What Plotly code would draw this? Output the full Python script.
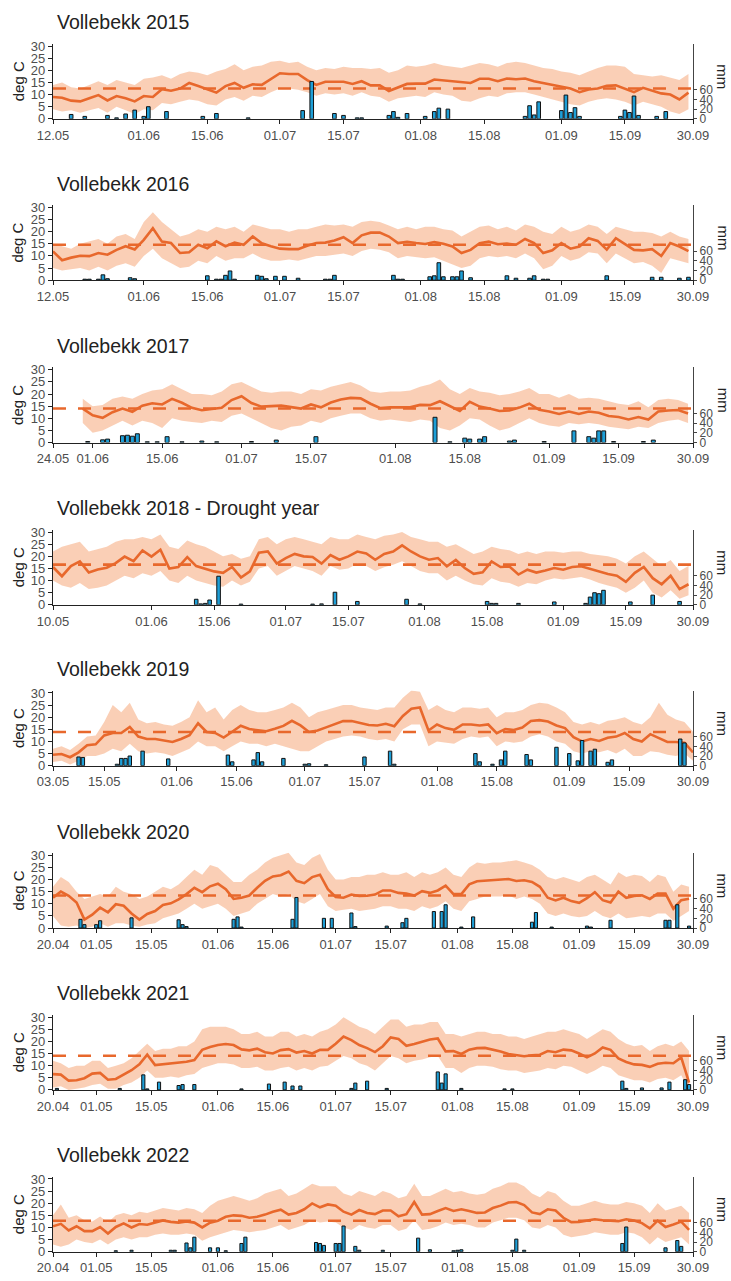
import plotly.graph_objects as go
import pandas as pd

# ---------------- data ----------------
years = [2015, 2016, 2017, 2018, 2019, 2020, 2021, 2022]
titles = ["Vollebekk 2015", "Vollebekk 2016", "Vollebekk 2017",
          "Vollebekk 2018 - Drought year", "Vollebekk 2019",
          "Vollebekk 2020", "Vollebekk 2021", "Vollebekk 2022"]
range_start = ["05-12", "05-12", "05-24", "05-10", "05-03", "04-20", "04-20", "04-20"]
range_end = "09-30"
temp_start = ["05-12", "05-12", "05-30", "05-10", "05-03", "04-20", "04-20", "04-20"]
season_mean = [12.5, 14.6, 14.0, 16.6, 13.9, 13.4, 14.1, 12.8]

ticks_a = ["12.05", "01.06", "15.06", "01.07", "15.07", "01.08", "15.08", "01.09", "15.09", "30.09"]
ticks_2017 = ["24.05", "01.06", "15.06", "01.07", "15.07", "01.08", "15.08", "01.09", "15.09", "30.09"]
ticks_2018 = ["10.05", "01.06", "15.06", "01.07", "15.07", "01.08", "15.08", "01.09", "15.09", "30.09"]
ticks_2019 = ["03.05", "15.05", "01.06", "15.06", "01.07", "15.07", "01.08", "15.08", "01.09", "15.09", "30.09"]
ticks_b = ["20.04", "01.05", "15.05", "01.06", "15.06", "01.07", "15.07", "01.08", "15.08", "01.09", "15.09", "30.09"]
tick_labels = [ticks_a, ticks_a, ticks_2017, ticks_2018, ticks_2019, ticks_b, ticks_b, ticks_b]

# temperatures read every second day from temp_start (deg C)
mean_2015 = [9.0, 8.7, 7.5, 7.2, 8.5, 9.8, 7.6, 9.4, 8.5, 7.2,
             9.4, 9.0, 12.2, 11.6, 12.5, 14.8, 13.5, 12.0, 10.8, 13.5,
             14.8, 12.8, 14.2, 14.0, 16.5, 18.8, 18.5, 18.5, 16.0, 14.0,
             15.3, 15.3, 15.3, 14.4, 15.5, 13.8, 13.8, 11.5, 13.0, 14.4,
             14.5, 14.5, 16.2, 15.8, 15.5, 15.0, 14.8, 16.5, 16.5, 15.5,
             16.6, 16.3, 16.6, 15.5, 14.8, 14.0, 13.2, 12.5, 11.0, 12.1,
             12.5, 13.6, 13.8, 12.5, 11.0, 12.8, 11.5, 10.5, 10.0, 8.0,
             10.8]
hi_2015 = [14, 15, 13, 12.5, 14, 15.5, 14, 16, 15, 14,
           16.5, 17, 18, 16.5, 18.5, 19.5, 19, 18, 19.5, 20.5,
           22.5, 20, 21.5, 22, 23.5, 24, 23, 23.5, 21.5, 20,
           21, 20.5, 21.5, 21, 21, 20.5, 21, 19, 20, 22,
           21.5, 22, 23, 22, 21.5, 21, 22, 23, 22.5, 21.5,
           23, 23.5, 23, 22, 21, 20.5, 19.5, 19, 18, 19.5,
           21, 22, 22, 21.5, 18.5, 18, 17.5, 18, 17, 16,
           18.5]
lo_2015 = [4, 3, 3.5, 2.5, 3.5, 4.5, 2.5, 5, 3.5, 2,
           4, 3.5, 6.5, 6, 7, 8, 7.5, 6, 5.5, 8,
           9, 7.5, 9.5, 9, 11, 12.5, 12.5, 12, 11, 9.5,
           10.5, 10, 10.5, 9.5, 11, 9.5, 9, 7, 8.5, 9,
           9.5, 9, 11, 10, 9.5, 7.5, 7, 8.5, 9.5, 9,
           10.5, 11, 11, 10, 9, 8, 7, 6, 5.5, 7,
           8, 8.5, 8, 7, 5.5, 7, 6, 5, 3, 2,
           4]

mean_2016 = [11.9, 8.2, 9.3, 10.1, 9.9, 11.2, 10.5, 12.5, 14.0, 12.7,
             16.6, 21.4, 15.9, 15.3, 11.2, 11.5, 14.6, 13.2, 16.0, 14.0,
             15.5, 14.6, 18.0, 15.2, 14.0, 13.0, 12.8, 12.8, 14.2, 15.3,
             15.5, 16.4, 17.7, 15.3, 18.5, 19.6, 19.6, 18.0, 15.3, 15.8,
             15.3, 14.9, 15.7, 15.0, 13.9, 11.2, 12.5, 15.2, 15.9, 14.8,
             15.1, 14.6, 17.0, 15.3, 11.2, 12.3, 15.3, 13.0, 13.9, 17.3,
             16.2, 12.6, 17.3, 14.8, 12.5, 12.3, 12.8, 10.0, 15.3, 13.9,
             12.0]
hi_2016 = [15, 14, 13, 15, 16, 17, 15, 18, 19, 17,
           24, 28, 24, 21, 18, 19, 21, 20, 22, 21,
           22, 20, 23, 22, 21, 21, 20, 21, 21, 22,
           23, 22.5, 23, 22, 24, 24.5, 24, 22.5, 21, 22,
           21, 22, 22, 21, 20.5, 18, 20, 22, 22.5, 21,
           22, 20.5, 23, 22, 20, 19, 22, 20, 21, 23,
           22, 19, 22, 21, 20, 20, 19.5, 18, 20, 18,
           17]
lo_2016 = [5, 4, 4.5, 5, 4, 5.5, 4, 6, 7, 5.5,
           10, 13, 9, 7, 5, 5.5, 8, 7, 10, 8,
           9, 9, 11, 9, 8, 8, 8.5, 8, 9, 10,
           10, 10.5, 11, 10, 12, 13, 12.5, 11.5, 9, 10,
           9.5, 9, 9.5, 8, 6.5, 5, 6, 9, 10, 9.5,
           10, 9, 11, 9, 4.5, 6, 10, 8, 9, 11.5,
           11, 7, 11, 9, 7, 7.5, 6, 3, 9, 8,
           7]

mean_2017 = [14.0, 11.2, 10.2, 12.5, 14.0, 12.7, 15.2, 16.2, 15.7, 18.0,
             16.4, 14.3, 13.3, 13.8, 14.3, 17.5, 19.1, 16.3, 14.8, 15.0,
             15.2, 14.6, 14.0, 15.7, 14.5, 16.5, 17.7, 18.4, 18.2, 16.0,
             14.2, 14.5, 14.5, 14.5, 15.5, 15.4, 17.0, 15.0, 13.0, 16.8,
             14.8, 14.0, 13.0, 13.2, 14.4, 16.0, 13.5, 12.8, 11.8, 12.8,
             11.8, 12.8, 12.3, 10.9, 10.5, 9.5, 10.5, 9.5, 12.8, 13.2,
             13.4, 12.0]
hi_2017 = [18, 15, 15.5, 18, 19, 18, 20, 21.5, 22, 24,
           22, 20, 20, 19.5, 21, 24, 25, 23, 21, 20.5,
           21, 21, 20, 22, 21.5, 23, 24, 25, 23.5, 21,
           20.5, 21, 21, 21.5, 23, 24, 26, 22, 20, 22.5,
           21, 20.5, 19.5, 20, 21, 22.5, 20, 20, 18.5, 20,
           18, 18.5, 18, 17, 16, 15.5, 17, 14.5, 17.5, 18,
           17.5, 16]
lo_2017 = [8, 4, 5, 7, 9, 7, 9, 8, 6, 10,
           9, 8.5, 8, 9, 8.5, 11, 12, 10, 8, 6,
           5, 6.5, 7, 9, 8, 10, 11, 12, 12, 10,
           9, 9.5, 9, 8.5, 9.5, 9, 6, 5, 7, 10,
           9.5, 7, 5, 6, 8, 10, 8, 7, 6.5, 8,
           7.5, 8, 7.5, 6.5, 6, 5.5, 6.5, 6, 8, 9,
           9.5, 8]

mean_2018 = [15.6, 11.8, 16.0, 17.9, 13.3, 14.6, 15.3, 17.2, 19.9, 18.0,
             22.4, 19.9, 22.7, 15.0, 15.6, 19.7, 16.0, 15.0, 13.8, 13.2,
             15.6, 11.3, 13.8, 21.5, 22.0, 17.0, 19.3, 21.0, 20.0, 19.7,
             17.0, 20.5, 18.6, 20.0, 22.0, 21.2, 18.6, 21.0, 22.0, 24.5,
             22.0, 20.0, 18.6, 19.3, 15.9, 18.5, 15.2, 12.8, 13.4, 17.9,
             15.6, 15.8, 12.5, 14.5, 13.3, 14.2, 15.2, 14.5, 15.6, 15.9,
             14.8, 13.5, 12.7, 12.0, 9.5, 13.2, 15.6, 11.0, 8.5, 12.0,
             6.5, 8.5]
hi_2018 = [22, 24, 25, 26, 22, 23, 24, 26, 27, 27,
           28, 27, 29, 24, 23, 26.5, 25, 24, 22, 20,
           21, 19, 20, 27, 28, 25, 27, 28, 27, 26,
           25, 28, 27, 27, 29, 28, 27, 28.5, 29, 30,
           28, 27, 26, 26, 24, 25, 23, 21, 22, 24,
           23, 22.5, 21, 22, 21, 22, 22, 21.5, 22, 22,
           21, 20.5, 20, 19, 17, 20, 22, 19, 16, 18.5,
           14, 16]
lo_2018 = [10, 8, 7, 9, 6.5, 7, 8, 10, 12, 11,
           13, 12, 14, 10, 9, 12, 10, 9, 8, 7.5,
           10, 8, 9.5, 15, 16, 12, 14, 16, 15, 14,
           12, 16, 14.5, 15, 17, 16, 14, 15.5, 16.5, 18,
           16, 14, 13, 13, 10, 12, 10, 8.5, 8, 11,
           9.5, 9, 7.5, 9, 8.5, 10, 11, 10.5, 11, 11.5,
           10.5, 9, 8, 7, 5, 7, 10, 5, 3, 6,
           2.5, 4]

mean_2019 = [4.5, 4.8, 3.5, 5.5, 8.4, 8.8, 12.5, 13.5, 13.5, 16.0,
             12.0, 11.0, 11.0, 10.5, 9.8, 11.0, 12.6, 17.5, 13.9, 13.5,
             11.6, 14.0, 16.5, 15.1, 14.8, 14.2, 15.2, 16.4, 18.5, 16.6,
             13.9, 14.5, 15.8, 17.0, 18.4, 18.4, 17.6, 16.8, 16.6, 17.3,
             16.3, 20.5, 23.5, 24.0, 14.5, 17.0, 15.5, 14.8, 17.0, 17.0,
             16.6, 17.0, 13.4, 15.1, 14.7, 15.7, 18.4, 18.8, 18.2, 16.6,
             15.5, 11.8, 10.0, 11.0, 10.2, 11.5, 12.0, 13.5, 11.0, 10.0,
             13.0, 11.5, 9.8, 9.8, 9.5, 5.5]
hi_2019 = [7, 8, 6.5, 9, 12, 12.5, 18, 25, 22, 26,
           19, 17.5, 18, 17, 16.5, 18, 20, 27, 22, 24,
           19, 23, 25, 23, 22, 22, 23, 24, 26, 24,
           20, 22, 23, 24, 25, 25, 24, 23.5, 23, 24,
           24, 28, 31, 30.5, 23, 25, 23, 22, 24, 24,
           23.5, 24, 20, 22, 22, 23, 25, 26, 25.5, 24,
           22, 18, 17, 18, 17, 18.5, 19, 20, 18, 17,
           20, 26, 21, 19, 18, 14]
lo_2019 = [1.5, 2, 0.5, 2, 4, 4, 5, 7, 6, 9,
           6, 5, 5.5, 5, 4, 5.5, 7, 10, 8, 8,
           6, 8, 10, 9, 9, 8, 9, 8, 7, 6,
           6, 8, 10, 11, 12, 12.5, 12, 11, 10.5, 11,
           10, 15, 17, 17, 8, 10, 9.5, 9, 11, 12,
           11.5, 12, 8, 10, 9.5, 10, 12, 13, 12, 10,
           9, 6, 5, 6, 5.5, 6.5, 5, 7, 4, 4,
           6, 5.5, 4.5, 4, 5, 2]

mean_2020 = [12.5, 15.0, 13.3, 10.5, 3.5, 5.5, 8.4, 6.5, 9.8, 9.2,
             6.0, 3.5, 5.8, 7.0, 9.5, 10.2, 11.8, 14.0, 16.6, 14.8,
             17.2, 18.3, 16.0, 12.0, 12.5, 13.4, 16.6, 19.5, 21.3, 21.8,
             23.3, 19.5, 18.5, 21.0, 22.0, 16.0, 12.8, 12.5, 13.8, 13.2,
             13.3, 13.8, 15.5, 15.5, 14.5, 14.2, 13.4, 15.2, 14.5, 15.5,
             17.5, 14.0, 14.0, 18.0, 19.3, 19.5, 19.8, 20.0, 20.2, 19.4,
             19.7, 19.0, 17.0, 12.5, 11.4, 12.5, 11.1, 10.4, 12.3, 14.8,
             11.5, 10.5, 15.0, 12.5, 13.2, 13.5, 12.0, 14.2, 14.2, 8.0,
             11.5, 12.1]
hi_2020 = [17, 21, 19, 15, 12, 13, 14, 13, 17, 15,
           14, 12, 13, 15, 17, 16, 18, 21, 24, 22,
           26, 25, 22, 19, 19, 22, 24, 27, 29, 30,
           31, 27, 26, 29, 30.5, 24, 20, 20, 21, 21,
           22, 22, 23, 22, 22, 23, 21, 23, 22, 23,
           25, 22, 21, 25, 27, 26.5, 27, 27, 27.5, 28,
           27, 26, 24, 21, 20, 21, 20, 19, 21, 22,
           20, 18, 23, 21, 22, 21.5, 19, 22, 21, 15,
           18, 17]
lo_2020 = [5, 1, 0.5, 1, 0, 0.5, 2, 0.5, 2, 2,
           1, 0.5, 1.5, 2, 4, 5, 6, 8, 10, 8,
           9, 10, 8, 5, 6, 7, 10, 12, 14, 13,
           14, 11, 10, 12, 14, 9, 7, 7.5, 8, 7,
           7.5, 8, 9, 9, 8, 8, 7, 9, 8, 9,
           11, 8, 7, 11, 12, 13, 13, 13, 13.5, 12,
           13, 12, 10, 6, 5, 6, 5, 4.5, 5, 7,
           5, 4, 6, 4, 4.5, 5, 4.5, 6, 6, 3,
           5, 7]

mean_2021 = [6.5, 6.3, 3.8, 4.0, 4.8, 6.7, 7.0, 4.2, 4.5, 6.3,
             8.1, 10.5, 14.5, 10.2, 10.5, 11.1, 11.3, 11.6, 12.3, 16.5,
             17.7, 18.5, 18.9, 18.5, 16.7, 16.3, 17.0, 15.5, 15.0, 16.4,
             16.8, 15.4, 16.0, 15.0, 16.5, 16.5, 19.0, 22.0, 20.5, 18.5,
             17.2, 15.6, 18.0, 21.6, 21.0, 18.2, 18.9, 19.8, 20.8, 21.2,
             15.9, 16.0, 14.8, 16.6, 17.2, 17.3, 16.6, 15.8, 14.8, 14.5,
             13.9, 14.3, 14.5, 16.0, 15.5, 16.6, 16.3, 15.0, 13.4, 15.0,
             17.5, 16.5, 13.0, 11.5, 10.5, 10.3, 9.5, 10.8, 11.2, 11.0,
             13.4, 3.0]
hi_2021 = [12, 11, 9, 10, 10, 12, 12, 9, 10, 11,
           13, 16, 19, 16, 17, 17, 18, 18, 20, 25,
           26, 26, 26, 25, 23, 23, 24, 22, 22, 24,
           24, 22, 23, 22, 24, 25, 27, 30, 28, 26,
           25, 23, 26, 29, 29, 26, 27, 27, 28, 28,
           23, 23, 22, 23, 24, 24, 23, 23, 22, 22,
           21, 22, 23, 24, 24, 25, 24, 23, 21, 23,
           25, 24, 21, 19, 18, 18.5, 16, 18, 19, 18,
           20, 16]
lo_2021 = [1, 1.5, 0, 0.5, 1, 2, 2.5, 0.5, 0.5, 2,
           3, 5, 8, 5, 5, 5.5, 5, 6, 6.5, 9,
           10, 11, 11, 10.5, 9, 9, 9.5, 8, 8, 9,
           9.5, 8, 9, 8, 9.5, 10, 12, 14, 13, 11,
           10, 8, 11, 14, 13, 11, 12, 12.5, 13.5, 14,
           9, 9, 7, 9, 10, 10, 9.5, 8.5, 8, 8,
           7, 7.5, 8, 9, 8.5, 10, 9.5, 8, 6.5, 8,
           10, 9, 6, 5, 4, 4, 3, 4.5, 5, 4,
           6, 0]

mean_2022 = [10.5, 11.5, 8.8, 10.5, 8.5, 8.5, 10.2, 7.5, 10.2, 11.7,
             10.0, 11.4, 11.1, 12.1, 12.9, 12.3, 12.0, 12.5, 12.0, 10.0,
             12.0, 12.8, 14.4, 15.0, 14.8, 14.0, 14.4, 15.3, 16.5, 17.3,
             15.3, 16.0, 17.5, 19.9, 18.3, 19.5, 19.0, 16.5, 15.3, 17.2,
             16.0, 15.5, 17.0, 17.0, 14.6, 15.5, 20.5, 15.3, 15.5, 16.8,
             18.0, 16.8, 17.5, 16.8, 16.0, 16.2, 18.0, 19.0, 20.3, 20.5,
             19.2, 16.2, 15.5, 17.5, 17.0, 14.0, 12.2, 12.3, 12.8, 13.4,
             13.0, 12.8, 12.6, 13.4, 12.9, 11.8, 9.6, 12.8, 10.2, 11.2,
             12.4, 9.0]
hi_2022 = [15, 19.5, 14, 15, 13, 12.5, 14.5, 12, 15, 16,
           15, 16.5, 16, 17, 18, 17.5, 17, 18, 17.5, 16,
           19, 21, 22, 23, 22, 21, 22, 24, 25, 26,
           23, 24, 26, 28, 27, 27, 27, 24, 23, 25,
           24, 23, 25, 24, 22, 23, 28, 23, 23, 24.5,
           26, 24.5, 25, 24, 23.5, 24, 26, 27, 28.5, 28.5,
           27, 24, 22.5, 25, 24, 21, 19, 19, 20, 21,
           20, 19.5, 19.5, 20.5, 20, 19, 16, 20, 17, 18,
           19, 16]
lo_2022 = [3, 2, 3, 5, 4, 3.5, 5, 3, 5, 6,
           5, 6, 6, 7, 7.5, 7, 7, 7.5, 7, 4.5,
           6, 7, 8, 9, 8.5, 8, 8.5, 9, 10, 11,
           9, 10, 11, 13, 12, 12.5, 12, 10, 9, 11,
           10, 9.5, 11, 11, 8.5, 9.5, 13, 9, 9.5, 10.5,
           12, 11, 11.5, 11, 10, 10, 12, 13, 14, 14,
           13, 10, 9.5, 11, 10, 7, 6, 6.5, 7, 8,
           7.5, 7, 7, 8, 7.5, 6, 3, 6, 4, 5,
           6, 3]

# precipitation (mm), days with rain
p_dates_2015 = ["05-16", "05-19", "05-24", "05-26", "05-28", "05-30", "06-01", "06-02", "06-06", "06-14",
                "06-17", "06-24", "07-06", "07-08", "07-13", "07-15", "07-18", "07-19", "07-25", "07-26",
                "07-27", "07-29", "08-02", "08-04", "08-05", "08-07", "08-24", "08-25", "08-26", "08-27",
                "09-01", "09-02", "09-03", "09-04", "09-05", "09-14", "09-15", "09-16", "09-17", "09-18",
                "09-22", "09-24"]
p_mm_2015 = [9, 5, 7, 2, 10, 18, 5, 25, 15, 5,
             11, 2, 17, 77, 11, 7, 2, 2, 7, 15,
             3, 11, 5, 15, 22, 20, 5, 27, 8, 35,
             17, 49, 13, 23, 5, 5, 18, 13, 47, 7,
             5, 15]
p_dates_2016 = ["05-19", "05-20", "05-22", "05-23", "05-24", "05-29", "05-30", "06-15", "06-17", "06-18",
                "06-19", "06-20", "06-21", "06-26", "06-27", "06-28", "06-30", "07-02", "07-05", "07-11",
                "07-12", "07-13", "07-26", "07-27", "07-28", "08-03", "08-04", "08-05", "08-06", "08-08",
                "08-09", "08-10", "08-12", "08-20", "08-22", "08-25", "08-26", "08-28", "08-29", "09-11",
                "09-21", "09-23", "09-27", "09-29"]
p_mm_2016 = [2, 2, 2, 11, 3, 5, 3, 9, 2, 2,
             10, 19, 2, 10, 8, 3, 8, 8, 4, 2,
             2, 10, 10, 2, 2, 7, 9, 36, 7, 7,
             7, 19, 5, 9, 4, 4, 9, 2, 2, 9,
             6, 6, 4, 6]
p_dates_2017 = ["05-31", "06-03", "06-04", "06-07", "06-08", "06-09", "06-10", "06-12", "06-14", "06-16",
                "06-19", "06-23", "06-26", "07-03", "07-08", "07-16", "08-09", "08-12", "08-15", "08-16",
                "08-18", "08-19", "08-24", "08-25", "08-31", "09-06", "09-09", "09-10", "09-11", "09-12",
                "09-14", "09-20", "09-22"]
p_mm_2017 = [2, 5.5, 7, 14, 15, 13, 18, 1.5, 1.5, 12,
             1.5, 3, 1.5, 2, 5, 12, 52, 1.5, 9, 7,
             7, 12, 3, 5, 2, 24, 12, 9, 24, 24,
             2, 2, 5]
p_dates_2018 = ["06-11", "06-12", "06-13", "06-14", "06-16", "06-21", "07-07", "07-09", "07-12", "07-17",
                "07-28", "07-31", "08-15", "08-16", "08-17", "08-22", "08-30", "09-06", "09-07", "09-08",
                "09-09", "09-10", "09-16", "09-21", "09-27"]
p_mm_2018 = [11.5, 2, 3, 10, 59, 1.5, 1.5, 2, 26, 7,
             11.5, 2, 7, 3, 3, 3, 6, 3, 16, 25,
             23, 30, 6, 20, 7]
p_dates_2019 = ["05-09", "05-10", "05-18", "05-19", "05-20", "05-21", "05-24", "05-30", "06-13", "06-14",
                "06-19", "06-20", "06-21", "06-26", "07-01", "07-02", "07-06", "07-15", "07-21", "07-22",
                "08-10", "08-11", "08-14", "08-16", "08-17", "08-22", "08-23", "08-29", "09-01", "09-03",
                "09-04", "09-06", "09-07", "09-10", "09-11", "09-27", "09-28"]
p_mm_2019 = [18, 17, 3, 15, 15, 20, 30, 14, 22, 8,
             12, 27, 8, 15, 3, 4, 2, 18, 30, 3,
             25, 8, 3, 12, 30, 23, 12, 38, 25, 10,
             52, 30, 34, 7, 12, 55, 47]
p_dates_2020 = ["04-27", "04-28", "05-01", "05-02", "05-10", "05-22", "05-23", "05-24", "06-05", "06-06",
                "06-07", "06-20", "06-21", "06-28", "06-30", "07-05", "07-06", "07-14", "07-18", "07-19",
                "07-26", "07-28", "07-29", "08-02", "08-05", "08-20", "08-21", "08-25", "09-03", "09-04",
                "09-09", "09-23", "09-24", "09-26", "09-29"]
p_mm_2020 = [18, 7, 7, 15, 21, 17, 7, 3, 18, 23,
             2, 18, 63, 20, 20, 31, 3, 4, 11, 20,
             34, 34, 48, 2, 23, 12, 32, 2, 4, 2,
             16, 16, 16, 48, 4]
p_dates_2021 = ["04-21", "05-07", "05-13", "05-14", "05-17", "05-22", "05-23", "05-26", "06-07", "06-14",
                "06-18", "06-20", "06-22", "07-05", "07-06", "07-09", "07-14", "07-27", "07-28", "07-29",
                "08-02", "08-13", "08-15", "09-12", "09-13", "09-17", "09-22", "09-24", "09-28", "09-29"]
p_mm_2021 = [3, 3, 31, 2, 16, 9, 11, 11, 2, 12,
             16, 8, 8, 3, 14, 18, 3, 37, 14, 33,
             3, 2, 2, 18, 3, 4, 4, 16, 21, 11]
p_dates_2022 = ["05-06", "05-10", "05-20", "05-21", "05-24", "05-25", "05-26", "05-30", "06-01", "06-03",
                "06-07", "06-08", "06-26", "06-27", "06-28", "07-01", "07-02", "07-03", "07-06", "07-07",
                "07-13", "07-22", "07-25", "07-31", "08-01", "08-02", "08-15", "08-16", "08-18", "09-12",
                "09-13", "09-23", "09-26", "09-27"]
p_mm_2022 = [2, 3, 3, 3, 18, 8, 30, 8, 8, 2,
             17, 30, 19, 17, 13, 17, 17, 53, 11, 3,
             3, 28, 4, 2, 3, 4, 3, 26, 3, 17,
             51, 8, 23, 11]

means = [mean_2015, mean_2016, mean_2017, mean_2018, mean_2019, mean_2020, mean_2021, mean_2022]
his = [hi_2015, hi_2016, hi_2017, hi_2018, hi_2019, hi_2020, hi_2021, hi_2022]
los = [lo_2015, lo_2016, lo_2017, lo_2018, lo_2019, lo_2020, lo_2021, lo_2022]
p_dates = [p_dates_2015, p_dates_2016, p_dates_2017, p_dates_2018, p_dates_2019, p_dates_2020, p_dates_2021, p_dates_2022]
p_mms = [p_mm_2015, p_mm_2016, p_mm_2017, p_mm_2018, p_mm_2019, p_mm_2020, p_mm_2021, p_mm_2022]

# ---------------- styling / layout ----------------
W, H = 731, 1281
ML, MR = 53, 38
PW = W - ML - MR
bottoms_px = [115, 278, 442, 606, 768.5, 932.5, 1096, 1259.5]
PX_PER_30 = 73.5
T_MAX = 31
MM_MAX = 155

LINE_C = "#E8682C"
BAND_C = "rgba(245,150,95,0.46)"
BAR_C = "#1E9FD7"
FONT = "Liberation Sans, Arial, Helvetica, sans-serif"
TICK_C = "#4d4d4d"

fig = go.Figure()
layout = dict(width=W, height=H, margin=dict(l=ML, r=MR, t=0, b=0),
              plot_bgcolor="white", paper_bgcolor="white", showlegend=False,
              font=dict(family=FONT, color="#222"), annotations=[])


def nm(base, n):
    return base if n == 1 else f"{base}{n}"


DAY_MS = 86400000
for i, yr in enumerate(years):
    xi = i + 1
    yt = 2 * i + 1
    ym = 2 * i + 2
    xs, yts, yms = nm("x", xi), nm("y", yt), nm("y", ym)

    n = min(len(means[i]), len(his[i]), len(los[i]))
    tdates = pd.date_range(f"{yr}-{temp_start[i]}", periods=n, freq="2D")
    x0 = f"{yr}-{range_start[i]}"
    x1 = f"{yr}-{range_end}"

    # band
    fig.add_trace(go.Scatter(x=tdates, y=los[i][:n], mode="lines", line=dict(width=0, color=BAND_C),
                             xaxis=xs, yaxis=yts, hoverinfo="skip"))
    fig.add_trace(go.Scatter(x=tdates, y=his[i][:n], mode="lines", line=dict(width=0, color=BAND_C),
                             fill="tonexty", fillcolor=BAND_C, xaxis=xs, yaxis=yts, hoverinfo="skip"))
    # mean line
    fig.add_trace(go.Scatter(x=tdates, y=means[i][:n], mode="lines",
                             line=dict(width=2.6, color=LINE_C), xaxis=xs, yaxis=yts))
    # season mean dashed
    fig.add_trace(go.Scatter(x=[x0, x1], y=[season_mean[i], season_mean[i]], mode="lines",
                             line=dict(width=2.6, color=LINE_C, dash="13px,12px"),
                             xaxis=xs, yaxis=yts))
    # precipitation bars
    fig.add_trace(go.Bar(x=[f"{yr}-{d}" for d in p_dates[i]], y=p_mms[i],
                         width=0.8 * DAY_MS,
                         marker=dict(color=BAR_C, line=dict(color="#111", width=1)),
                         xaxis=xs, yaxis=yms))

    b = bottoms_px[i]
    top = b - PX_PER_30 * T_MAX / 30
    dom = [(H - b) / H, (H - top) / H]

    tv = [f"{yr}-{t[3:5]}-{t[0:2]}" for t in tick_labels[i]]
    layout[nm("xaxis", xi)] = dict(
        type="date", range=[x0, x1], domain=[0, 1], anchor=yts,
        tickvals=tv, ticktext=tick_labels[i], showgrid=False, zeroline=False,
        showline=True, linecolor="#222", linewidth=1.2, ticks="outside", ticklen=4,
        tickcolor="#222", tickfont=dict(size=13, color=TICK_C, family=FONT))
    layout[nm("yaxis", yt)] = dict(
        domain=dom, range=[0, T_MAX], anchor=xs, tickvals=[0, 5, 10, 15, 20, 25, 30],
        showgrid=False, zeroline=False, showline=True, linecolor="#222", linewidth=1.2,
        ticks="outside", ticklen=4, tickcolor="#222",
        tickfont=dict(size=13, color=TICK_C, family=FONT))
    layout[nm("yaxis", ym)] = dict(
        overlaying=yts, side="right", range=[0, MM_MAX], anchor=xs,
        tickvals=[0, 20, 40, 60], showgrid=False, zeroline=False, showline=True,
        linecolor="#444", linewidth=1.2, ticks="outside", ticklen=3, tickcolor="#444",
        tickfont=dict(size=12, color=TICK_C, family=FONT))

    ymid = (dom[0] + dom[1]) / 2
    layout["annotations"].append(dict(
        text=titles[i], xref="paper", yref="paper", x=(55 - ML) / PW,
        y=(H - (b - PX_PER_30 - 24)) / H, xanchor="left", yanchor="middle",
        showarrow=False, font=dict(size=19.5, color="#222", family=FONT)))
    layout["annotations"].append(dict(
        text="deg C", xref="paper", yref="paper", x=(18 - ML) / PW, y=ymid,
        xanchor="center", yanchor="middle", textangle=-90, showarrow=False,
        font=dict(size=15, color="#222", family=FONT)))
    layout["annotations"].append(dict(
        text="mm", xref="paper", yref="paper", x=(723 - ML) / PW, y=ymid + 0.004,
        xanchor="center", yanchor="middle", textangle=90, showarrow=False,
        font=dict(size=15, color="#222", family=FONT)))

fig.update_layout(**layout)
fig.write_html("out.html")
